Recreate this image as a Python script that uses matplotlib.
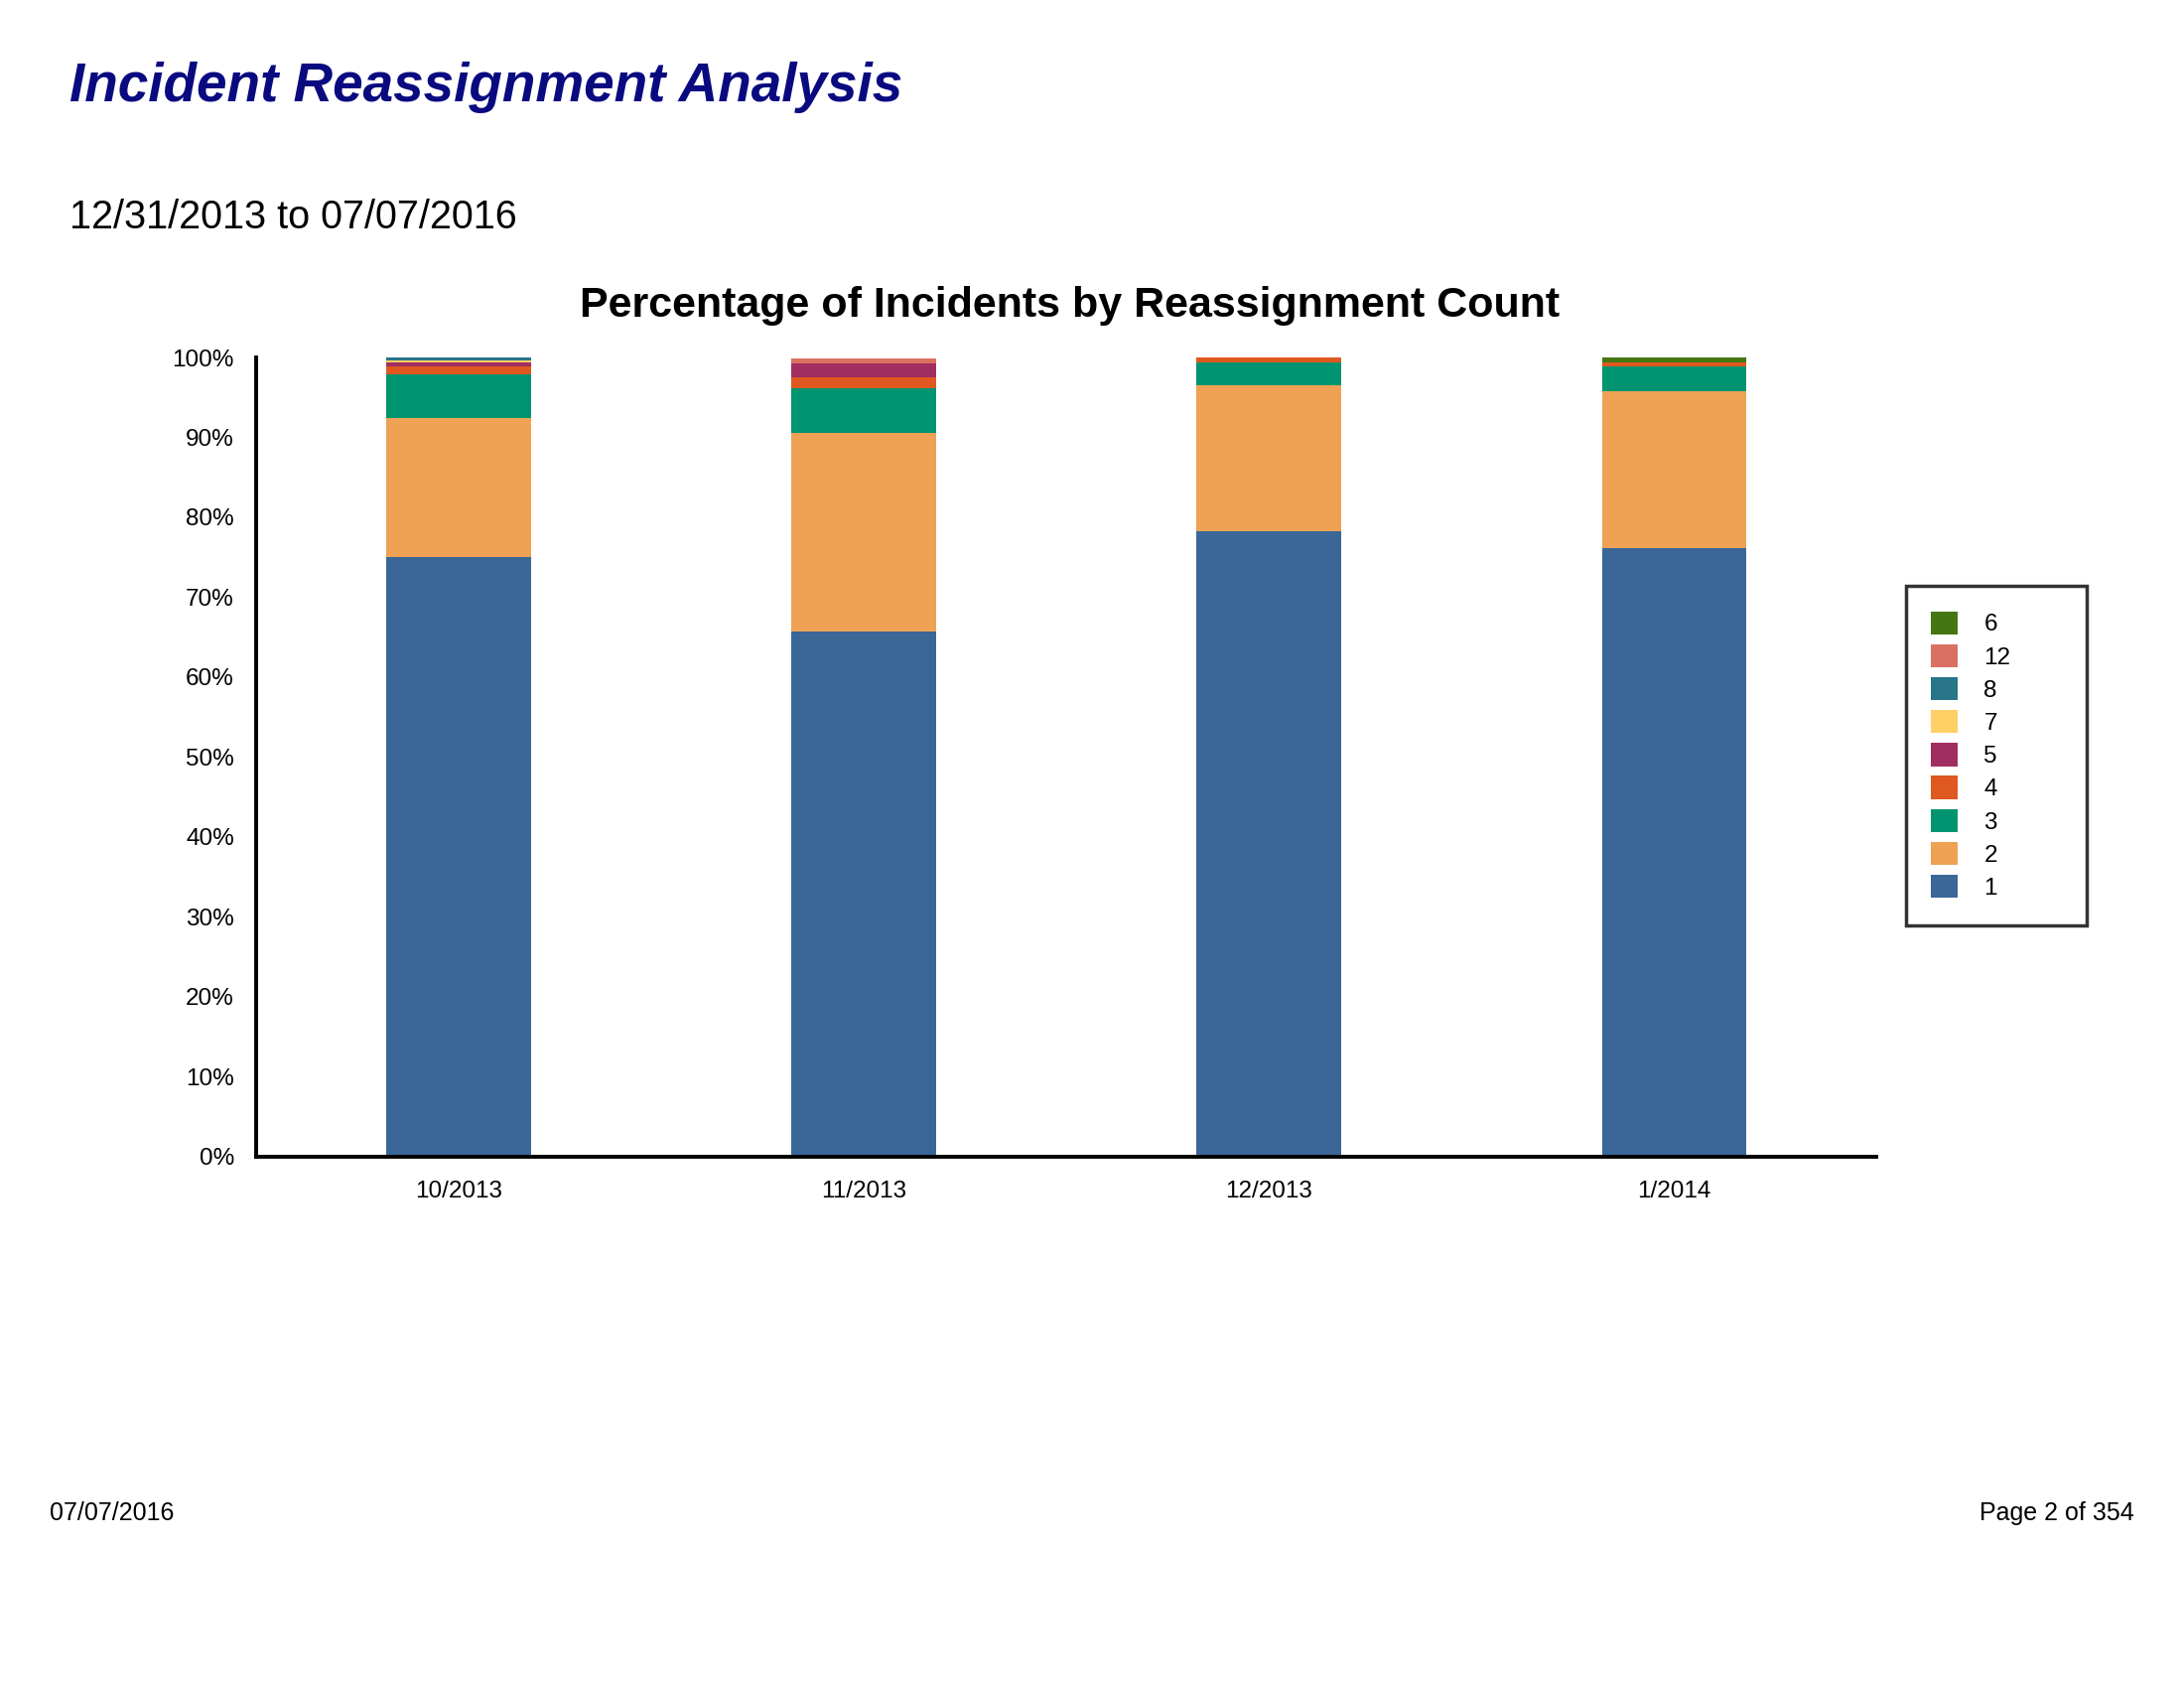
import numpy as np
import matplotlib
matplotlib.use("Agg")
import matplotlib.pyplot as plt
from matplotlib.patches import Patch

plt.rcParams['font.family'] = ['Liberation Sans', 'DejaVu Sans']

months = ['10/2013', '11/2013', '12/2013', '1/2014']
# percentage of incidents per reassignment count, bottom to top of each stack
counts = ['1', '2', '3', '4', '5', '7', '8', '12', '6']
pct_1 = [75.08, 65.7, 78.2, 76.1]
pct_2 = [17.3, 24.9, 18.3, 19.7]
pct_3 = [5.5, 5.6, 2.87, 3.1]
pct_4 = [1.0, 1.37, 0.62, 0.5]
pct_5 = [0.5, 1.75, 0.0, 0.0]
pct_7 = [0.25, 0.0, 0.0, 0.0]
pct_8 = [0.37, 0.0, 0.0, 0.0]
pct_12 = [0.0, 0.62, 0.0, 0.0]
pct_6 = [0.0, 0.0, 0.0, 0.62]
colors = ['#3A6698', '#EFA253', '#009470', '#DE5820', '#A12E61',
          '#FFD066', '#287588', '#DB7062', '#457612']

series = [pct_1, pct_2, pct_3, pct_4, pct_5, pct_7, pct_8, pct_12, pct_6]

fig = plt.figure(figsize=(22, 17), dpi=100)
ax = fig.add_axes([0.1173, 0.3150, 0.7420, 0.4732])

x = np.arange(len(months))
bottom = np.zeros(len(months))
for vals, c in zip(series, colors):
    ax.bar(x, vals, width=0.357, bottom=bottom, color=c, linewidth=0)
    bottom += np.array(vals)

ax.set_xlim(-0.5, 3.5)
ax.set_ylim(0, 100)
ax.set_yticks(np.arange(0, 101, 10))
ax.set_yticklabels(['%d%%' % v for v in range(0, 101, 10)])
ax.set_xticks(x)
ax.set_xticklabels(months)
ax.tick_params(axis='both', length=0, labelsize=17.5)
ax.tick_params(axis='y', pad=16)
ax.tick_params(axis='x', pad=18)
for s in ['top', 'right']:
    ax.spines[s].set_visible(False)
for s in ['left', 'bottom']:
    ax.spines[s].set_linewidth(2.8)

handles = [Patch(facecolor=c, edgecolor='none') for c in colors][::-1]
leg = fig.legend(handles, counts[::-1], loc='upper left', mode='expand',
                 bbox_to_anchor=(0.8725, 1 - 590 / 1700, 0.083, 0.0),
                 fontsize=17.5, frameon=True, fancybox=False,
                 handlelength=1.1, handleheight=1.1, handletextpad=1.1,
                 labelspacing=0.34, borderpad=1.05, borderaxespad=0)
leg.get_frame().set_edgecolor('black')
leg.get_frame().set_linewidth(2.5)

fig.text(0.032, 0.948, 'Incident Reassignment Analysis', fontsize=39.5,
         fontweight='bold', fontstyle='italic', color='#0A0A80', va='center')
fig.text(0.032, 0.871, '12/31/2013 to 07/07/2016', fontsize=28.5, va='center')
fig.text(0.490, 0.819, 'Percentage of Incidents by Reassignment Count',
         fontsize=31, fontweight='bold', ha='center', va='center')
fig.text(0.0227, 0.1035, '07/07/2016', fontsize=18, va='center')
fig.text(0.977, 0.1035, 'Page 2 of 354', fontsize=18, va='center', ha='right')

fig.savefig('out.png', dpi=100, facecolor='white')
